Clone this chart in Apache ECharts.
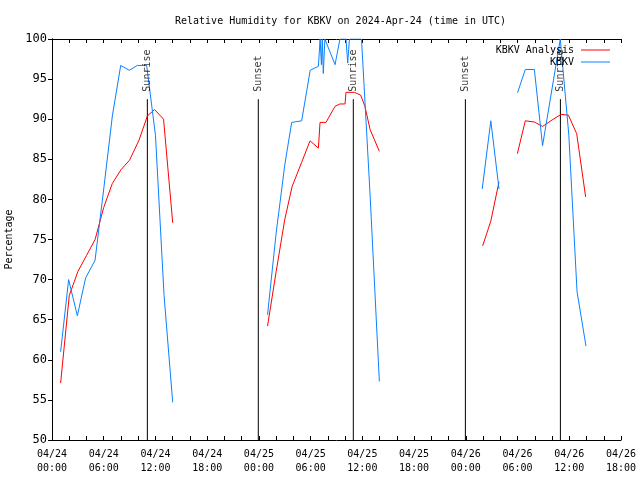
<!DOCTYPE html>
<html>
<head>
<meta charset="utf-8">
<script src="https://cdn.jsdelivr.net/npm/echarts@6/dist/echarts.min.js"></script>
<style>html,body{margin:0;padding:0;background:#fff}#c{width:640px;height:480px}</style>
</head>
<body>
<div id="c"></div>
<script>
// Hours since 2024-04-24 00:00 UTC, relative humidity (%)
const analysisDay1 = [[1,57.1],[2,68.0],[3,71.0],[4,73.0],[5,75.0],[6,79.0],[7,82.0],[8,83.7],[9,84.9],[10.1,87.4],[11.06,90.4],[11.9,91.2],[12.94,90.0],[14,77.1]];
const analysisDay2 = [[25,64.2],[26,71.0],[27,77.5],[27.85,81.6],[28.95,84.6],[29.93,87.3],[30.9,86.4],[31.09,89.6],[31.78,89.6],[32.83,91.6],[33.4,91.9],[33.99,91.9],[34.1,93.35],[35.1,93.35],[35.8,93.0],[36.3,91.6],[36.9,88.7],[37.97,86.0]];
const analysisDay3a = [[49.95,74.2],[50.9,77.3],[51.85,82.2]];
const analysisDay3b = [[53.98,85.7],[54.9,89.8],[55.95,89.65],[56.9,89.1],[58.0,89.9],[59.05,90.6],[59.9,90.5],[60.86,88.2],[61.9,80.3]];

const obsDay1 = [[1,61.0],[1.93,70.0],[2.94,65.5],[3.9,70.2],[4.99,72.4],[6.0,81.3],[7.0,90.4],[7.97,96.7],[8.97,96.1],[9.9,96.7],[10.98,96.7],[12.0,88.0],[13.0,68.0],[14.0,54.7]];
const obsDay2 = [[25,65.6],[26,75.8],[27,84.3],[27.8,89.6],[28.96,89.8],[29.95,96.1],[30.9,96.6],[31.1,100],[31.25,96.8],[31.35,100],[31.47,95.7],[31.65,100],[31.85,100],[32.83,96.8],[33.4,100],[34.1,100],[34.3,97.0],[34.5,100],[35.9,100],[36.9,80.5],[37.97,57.3]];
const obsDay3a = [[49.9,81.3],[50.9,89.8],[51.85,81.3]];
const obsDay3b = [[54.0,93.3],[54.9,96.2],[55.95,96.2],[56.9,86.7],[58.96,100],[59.95,88.0],[60.9,68.5],[61.94,61.7]];

const sunTimes = [11.06, 23.93, 34.95, 47.95, 58.97];
const sunNames = ['Sunrise','Sunset','Sunrise','Sunset','Sunrise'];
const sunLineTop = 92.5;
const sunLineBottom = 50;

const dayLabels = ['04/24','04/25','04/26'];
const hourLabels = ['00:00','06:00','12:00','18:00'];

const FONT = '"DejaVu Sans Mono", "Liberation Mono", monospace';
const RED = '#ff0000', BLUE = '#0a80ff';

function lineSeries(name, data, color) {
  return { name, type: 'line', data, symbol: 'none', showSymbol: false,
    lineStyle: { color, width: 1 }, itemStyle: { color }, animation: false, z: 3 };
}

const sunLineData = [];
sunTimes.forEach((t) => {
  sunLineData.push([t, sunLineBottom]);
  sunLineData.push([t, sunLineTop]);
  sunLineData.push([t, '-']);
});
const sunLabelData = sunTimes.map((t, i) => ({ value: [t, sunLineTop], name: sunNames[i] }));

const series = [
  lineSeries('KBKV Analysis', analysisDay1, RED),
  lineSeries('KBKV Analysis', analysisDay2, RED),
  lineSeries('KBKV Analysis', analysisDay3a, RED),
  lineSeries('KBKV Analysis', analysisDay3b, RED),
  lineSeries('KBKV', obsDay1, BLUE),
  lineSeries('KBKV', obsDay2, BLUE),
  lineSeries('KBKV', obsDay3a, BLUE),
  lineSeries('KBKV', obsDay3b, BLUE),
  { name: 'sunline', type: 'line', data: sunLineData, symbol: 'none', showSymbol: false, connectNulls: false,
    lineStyle: { color: '#000', width: 1 }, animation: false, z: 2 },
  { name: 'sunlabel', type: 'scatter', data: sunLabelData, symbolSize: 1, itemStyle: { color: 'rgba(0,0,0,0)' },
    animation: false, z: 4, silent: true,
    label: { show: true, formatter: (p) => p.name, position: 'top', distance: 7, rotate: 90,
      align: 'left', verticalAlign: 'middle', fontFamily: FONT, fontSize: 10, color: '#000' } }
];

function xLabel(v) {
  if (v % 6 !== 0) return '';
  return dayLabels[Math.floor(v / 24)] + '\n' + hourLabels[(v % 24) / 6];
}

const chart = echarts.init(document.getElementById('c'), null, { renderer: 'canvas' });
chart.setOption({
  animation: false,
  backgroundColor: '#fff',
  title: { text: 'Relative Humidity for KBKV on 2024-Apr-24 (time in UTC)', left: 170, top: 11,
    textStyle: { fontFamily: FONT, fontSize: 10, fontWeight: 'normal', color: '#000' } },
  legend: { data: [{ name: 'KBKV Analysis', icon: 'rect' }, { name: 'KBKV', icon: 'rect' }],
    orient: 'vertical', right: 30, top: 44, align: 'right', padding: 0,
    itemWidth: 29, itemHeight: 1, itemGap: 0,
    textStyle: { fontFamily: FONT, fontSize: 10, color: '#000', padding: [0, 2, 0, 0], lineHeight: 12 } },
  grid: { left: 52, right: 19, top: 39, bottom: 40, containLabel: false, outerBoundsMode: 'none' },
  xAxis: [
    { type: 'value', min: 0, max: 66, interval: 2, position: 'bottom',
      axisLine: { show: true, lineStyle: { color: '#000', width: 1 } },
      axisTick: { show: true, inside: true, length: 4, lineStyle: { color: '#000' } },
      splitLine: { show: false },
      axisLabel: { formatter: xLabel, fontFamily: FONT, fontSize: 10, color: '#000', lineHeight: 14, margin: 7, showMinLabel: true, showMaxLabel: true, hideOverlap: false, interval: 0 } },
    { type: 'value', min: 0, max: 66, interval: 2, position: 'top',
      axisLine: { show: true, lineStyle: { color: '#000', width: 1 } },
      axisTick: { show: true, inside: true, length: 4, lineStyle: { color: '#000' } },
      splitLine: { show: false }, axisLabel: { show: false } }
  ],
  yAxis: [
    { type: 'value', min: 50, max: 100, interval: 5, position: 'left',
      name: 'Percentage', nameLocation: 'middle', nameGap: 36, nameRotate: 90,
      nameTextStyle: { fontFamily: FONT, fontSize: 10, color: '#000' },
      axisLine: { show: true, lineStyle: { color: '#000', width: 1 } },
      axisTick: { show: true, inside: false, length: 4, lineStyle: { color: '#000' } },
      splitLine: { show: false },
      axisLabel: { fontFamily: FONT, fontSize: 12, color: '#000', margin: 5 } },
    { type: 'value', min: 50, max: 100, interval: 5, position: 'right',
      axisLine: { show: true, lineStyle: { color: '#000', width: 1 } },
      axisTick: { show: true, inside: true, length: 4, lineStyle: { color: '#000' } },
      splitLine: { show: false }, axisLabel: { show: false } }
  ],
  series
});
</script>
</body>
</html>
